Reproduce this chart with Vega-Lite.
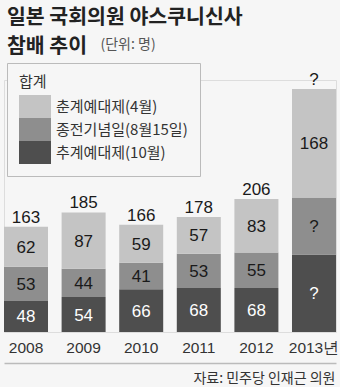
{
  "$schema": "https://vega.github.io/schema/vega-lite/v6.json",
  "autosize": {"type": "none"},
  "width": 332,
  "height": 252,
  "padding": {"left": 4, "top": 80, "right": 4, "bottom": 55},
  "background": "#f6f6f6",
  "title": {
    "text": ["일본 국회의원 야스쿠니신사", "참배 추이"],
    "anchor": "start",
    "frame": "group",
    "font": "Noto Sans CJK KR",
    "fontSize": 20.5,
    "fontWeight": "bold",
    "color": "#222222",
    "lineHeight": 29,
    "offset": -20,
    "dx": 3
  },
  "datasets": {
    "seg": [
      {"year": "2008", "type": "추계예대제(10월)", "rank": 1, "value": 48, "label": "48"},
      {"year": "2008", "type": "종전기념일(8월15일)", "rank": 2, "value": 53, "label": "53"},
      {"year": "2008", "type": "춘계예대제(4월)", "rank": 3, "value": 62, "label": "62"},
      {"year": "2009", "type": "추계예대제(10월)", "rank": 1, "value": 54, "label": "54"},
      {"year": "2009", "type": "종전기념일(8월15일)", "rank": 2, "value": 44, "label": "44"},
      {"year": "2009", "type": "춘계예대제(4월)", "rank": 3, "value": 87, "label": "87"},
      {"year": "2010", "type": "추계예대제(10월)", "rank": 1, "value": 66, "label": "66"},
      {"year": "2010", "type": "종전기념일(8월15일)", "rank": 2, "value": 41, "label": "41"},
      {"year": "2010", "type": "춘계예대제(4월)", "rank": 3, "value": 59, "label": "59"},
      {"year": "2011", "type": "추계예대제(10월)", "rank": 1, "value": 68, "label": "68"},
      {"year": "2011", "type": "종전기념일(8월15일)", "rank": 2, "value": 53, "label": "53"},
      {"year": "2011", "type": "춘계예대제(4월)", "rank": 3, "value": 57, "label": "57"},
      {"year": "2012", "type": "추계예대제(10월)", "rank": 1, "value": 68, "label": "68"},
      {"year": "2012", "type": "종전기념일(8월15일)", "rank": 2, "value": 55, "label": "55"},
      {"year": "2012", "type": "춘계예대제(4월)", "rank": 3, "value": 83, "label": "83"},
      {"year": "2013년", "type": "추계예대제(10월)", "rank": 1, "value": 120, "label": "?"},
      {"year": "2013년", "type": "종전기념일(8월15일)", "rank": 2, "value": 88, "label": "?"},
      {"year": "2013년", "type": "춘계예대제(4월)", "rank": 3, "value": 168, "label": "168"}
    ],
    "tot": [
      {"year": "2008", "total": 163, "label": "163"},
      {"year": "2009", "total": 185, "label": "185"},
      {"year": "2010", "total": 166, "label": "166"},
      {"year": "2011", "total": 178, "label": "178"},
      {"year": "2012", "total": 206, "label": "206"},
      {"year": "2013년", "total": 376, "label": "?"}
    ]
  },
  "encoding": {
    "x": {
      "field": "year",
      "type": "nominal",
      "sort": null,
      "scale": {"paddingInner": 0.236, "paddingOuter": 0},
      "axis": {
        "title": "자료: 민주당 인재근 의원",
        "titleFont": "Noto Sans CJK KR",
        "titleFontSize": 14,
        "titleFontWeight": "normal",
        "titleColor": "#333333",
        "titleAnchor": "end",
        "titleAlign": "right",
        "titleBaseline": "alphabetic",
        "titleX": 331,
        "titleY": 19,
        "labelAngle": 0,
        "labelFont": "Liberation Sans",
        "labelFontSize": 15.5,
        "labelColor": "#333333",
        "labelBaseline": "alphabetic",
        "labelPadding": -11,
        "ticks": false,
        "offset": 31,
        "domainColor": "#bbbbbb",
        "domainWidth": 1.5,
        "grid": false
      }
    }
  },
  "layer": [
    {
      "data": {"name": "seg"},
      "mark": {"type": "bar", "strokeWidth": 0},
      "encoding": {
        "y": {
          "field": "value",
          "type": "quantitative",
          "stack": "zero",
          "scale": {"domain": [0, 390], "nice": false},
          "axis": {
            "title": "(단위: 명)",
            "titleFont": "Noto Sans CJK KR",
            "titleFontSize": 14,
            "titleFontWeight": "normal",
            "titleColor": "#555555",
            "titleAngle": 0,
            "titleAlign": "left",
            "titleBaseline": "alphabetic",
            "titleX": 96,
            "titleY": -32,
            "domain": false,
            "ticks": false,
            "labels": false,
            "grid": false
          }
        },
        "order": {"field": "rank", "type": "quantitative", "sort": "ascending"},
        "color": {
          "field": "type",
          "type": "nominal",
          "scale": {
            "domain": ["춘계예대제(4월)", "종전기념일(8월15일)", "추계예대제(10월)"],
            "range": ["#c4c4c4", "#8e8e8e", "#4e4e4e"]
          },
          "legend": {
            "title": "합계",
            "orient": "none",
            "legendX": 3,
            "legendY": -17,
            "direction": "vertical",
            "padding": 12,
            "strokeColor": "#bbbbbb",
            "fillColor": "#f6f6f6",
            "titleFont": "Noto Sans CJK KR",
            "titleFontSize": 15,
            "titleFontWeight": "normal",
            "titleColor": "#333333",
            "titlePadding": 5,
            "labelFont": "Noto Sans CJK KR",
            "labelFontSize": 15,
            "labelColor": "#333333",
            "labelOffset": 5,
            "symbolType": "M-1,-0.71875L1,-0.71875L1,0.71875L-1,0.71875Z",
            "symbolSize": 1024,
            "symbolStrokeWidth": 0,
            "symbolOpacity": 1,
            "clipHeight": 23,
            "rowPadding": 0
          }
        }
      }
    },
    {
      "data": {"name": "seg"},
      "transform": [
        {"stack": "value", "groupby": ["year"], "sort": [{"field": "rank", "order": "ascending"}], "as": ["v0", "v1"]},
        {"fold": ["v0", "v1"], "as": ["edge", "pos"]}
      ],
      "mark": {"type": "text", "font": "Liberation Sans", "fontSize": 17, "baseline": "middle", "dy": 1},
      "encoding": {
        "y": {"aggregate": "mean", "field": "pos", "type": "quantitative"},
        "text": {"field": "label"},
        "detail": [{"field": "type"}, {"field": "rank"}],
        "color": {"condition": {"test": "datum.rank == 1", "value": "#ffffff"}, "value": "#1a1a1a"}
      }
    },
    {
      "data": {"name": "tot"},
      "mark": {"type": "text", "font": "Liberation Sans", "fontSize": 17, "baseline": "alphabetic", "dy": -4, "color": "#1a1a1a"},
      "encoding": {
        "y": {"field": "total", "type": "quantitative"},
        "text": {"field": "label"}
      }
    }
  ]
}
